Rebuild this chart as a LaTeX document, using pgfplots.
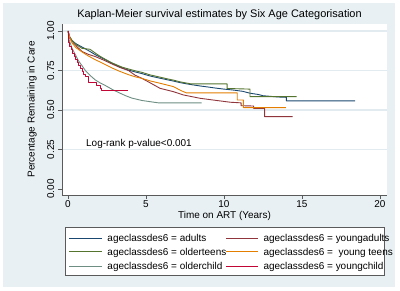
\documentclass[border=0pt]{standalone}
\usepackage{pgfplots}
\pgfplotsset{compat=1.18}
\usepackage{fontspec}
\setmainfont{Liberation Sans}
\definecolor{bgcol}{RGB}{232,240,243}
\definecolor{gridcol}{RGB}{226,236,240}
\definecolor{axcol}{RGB}{90,90,90}
\definecolor{cnavy}{RGB}{26,71,111}
\definecolor{cmaroon}{RGB}{144,53,59}
\definecolor{cforest}{RGB}{85,117,47}
\definecolor{cdkorange}{RGB}{227,126,0}
\definecolor{cteal}{RGB}{110,142,132}
\definecolor{ccranberry}{RGB}{193,5,52}
\begin{document}
\begin{tikzpicture}[x=1bp,y=1bp]
\useasboundingbox (0,0) rectangle (400,291);
\fill[white] (0,0) rectangle (400,291);
\fill[bgcol] (3,4) rectangle (395,288);
\node[font=\fontsize{11}{13}\selectfont] at (219.5,276) {Kaplan-Meier survival estimates by Six Age Categorisation};
\begin{axis}[
  at={(62bp,96bp)}, anchor=south west, scale only axis,
  width=325bp, height=171bp,
  xmin=-0.385, xmax=20.45, ymin=-0.038, ymax=1.044,
  font=\fontsize{10}{12}\selectfont,
  axis background/.style={fill=white},
  axis lines=left,
  axis line style={-, draw=axcol, line width=0.8bp},
  tick align=outside, major tick length=4bp,
  tick style={draw=axcol, line width=0.8bp},
  xtick={0,5,10,15,20}, xticklabels={0,5,10,15,20},
  ytick={0.25,0.5,0.75,1}, yticklabels={0.25,0.50,0.75,1.00},
  extra y ticks={0}, extra y tick labels={0.00},
  extra y tick style={grid=none},
  ymajorgrids, grid style={draw=gridcol, line width=1.2bp},
  /pgf/number format/assume math mode=true,
  yticklabel style={rotate=90, anchor=south, inner xsep=0bp, inner ysep=3.5bp},
  xticklabel style={anchor=north, inner sep=1.5bp},
  xlabel={Time on ART (Years)},
  ylabel={Percentage Remaining in Care},
  xlabel style={at={(axis description cs:0.5,-0.1228)}, anchor=center},
  ylabel style={at={(axis description cs:-0.0923,0.5)}, anchor=center},
  every axis plot/.append style={no marks, line width=0.9bp, line join=round},
]
% adults
\addplot[cnavy] coordinates {(0,1) (0.1,0.965) (0.25,0.94) (0.5,0.92) (0.77,0.905) (1.0,0.893) (1.41,0.87) (1.75,0.85) (2.05,0.835) (2.4,0.818) (2.82,0.795) (3.2,0.778) (3.5,0.765) (3.89,0.752) (4.3,0.741) (4.74,0.73) (5.26,0.715) (5.8,0.703) (6.32,0.692) (6.8,0.682) (7.18,0.673) (7.8,0.662) (8.46,0.652) (9.0,0.645) (9.5,0.638) (10.0,0.632) (10.6,0.626) (11.2,0.618) (11.67,0.606) (12.2,0.598) (12.5,0.59) (13.0,0.586) (13.5,0.582) (14.0,0.58) (14.0,0.558) (18.4,0.558)};
% youngadults
\addplot[cmaroon] coordinates {(0,1) (0.1,0.955) (0.3,0.93) (0.6,0.898) (0.9,0.87) (1.3,0.852) (1.75,0.838) (2.3,0.815) (2.82,0.791) (3.3,0.77) (3.89,0.749) (4.3,0.72) (4.74,0.70) (5.26,0.672) (5.9,0.637) (6.75,0.616) (7.4,0.595) (8.46,0.574) (9.3,0.563) (10.4,0.549) (11.1,0.545) (11.1,0.527) (11.9,0.525) (11.9,0.51) (12.6,0.51) (12.6,0.458) (14.4,0.458)};
% olderteens
\addplot[cforest] coordinates {(0,1) (0.1,0.965) (0.25,0.94) (0.5,0.915) (0.9,0.89) (1.41,0.884) (1.75,0.86) (2.05,0.84) (2.4,0.82) (2.82,0.798) (3.2,0.782) (3.5,0.77) (3.89,0.759) (4.3,0.748) (4.74,0.738) (5.26,0.722) (5.8,0.71) (6.32,0.698) (6.8,0.688) (7.18,0.678) (7.9,0.665) (10.2,0.665) (10.2,0.636) (11.67,0.632) (11.67,0.584) (14.65,0.584)};
% young teens
\addplot[cdkorange] coordinates {(0,1) (0.1,0.96) (0.26,0.924) (0.5,0.895) (0.9,0.867) (1.3,0.842) (1.75,0.818) (2.3,0.792) (2.82,0.766) (3.3,0.745) (3.89,0.723) (4.3,0.71) (4.74,0.70) (5.26,0.684) (5.9,0.669) (6.75,0.648) (7.3,0.62) (7.6,0.608) (10.85,0.608) (10.85,0.563) (11.24,0.563) (11.24,0.515) (13.97,0.515)};
% olderchild
\addplot[cteal] coordinates {(0,1) (0.05,0.95) (0.26,0.89) (0.47,0.85) (0.68,0.81) (0.9,0.78) (1.11,0.75) (1.4,0.72) (1.75,0.69) (2.05,0.672) (2.39,0.655) (2.8,0.632) (3.25,0.61) (3.7,0.59) (4.1,0.575) (4.74,0.56) (5.3,0.552) (5.8,0.545) (8.57,0.545)};
% youngchild
\addplot[ccranberry, const plot mark left] coordinates {(0,1) (0.04,0.93) (0.1,0.905) (0.2,0.88) (0.3,0.86) (0.4,0.84) (0.5,0.82) (0.6,0.80) (0.7,0.78) (0.8,0.76) (0.9,0.745) (1.0,0.725) (1.1,0.71) (1.3,0.672) (1.84,0.652) (2.05,0.637) (2.16,0.624) (3.87,0.624)};
\end{axis}
\node[anchor=west, inner sep=0pt, font=\fontsize{10}{12}\selectfont] at (86,147) {Log-rank p-value<0.001};
% legend
\draw[draw=axcol, fill=white, line width=0.7bp] (65,16) rectangle (384.3,63.7);
\begin{scope}[font=\fontsize{10}{12}\selectfont, every node/.style={anchor=base west, inner sep=0pt}]
\draw[cnavy, line width=0.9bp] (69.3,52.7) -- (101.7,52.7);
\node at (107.3,49.2) {ageclassdes6 = adults};
\draw[cmaroon, line width=0.9bp] (226,52.7) -- (258.3,52.7);
\node at (263.3,49.2) {ageclassdes6 = youngadults};
\draw[cforest, line width=0.9bp] (69.3,39.3) -- (101.7,39.3);
\node at (107.3,35.8) {ageclassdes6 = olderteens};
\draw[cdkorange, line width=0.9bp] (226,39.3) -- (258.3,39.3);
\node at (263.3,35.8) {ageclassdes6 = \ young teens};
\draw[cteal, line width=0.9bp] (69.3,25) -- (101.7,25);
\node at (107.3,21.5) {ageclassdes6 = olderchild};
\draw[ccranberry, line width=0.9bp] (226,25) -- (258.3,25);
\node at (263.3,21.5) {ageclassdes6 = youngchild};
\end{scope}
\end{tikzpicture}
\end{document}
